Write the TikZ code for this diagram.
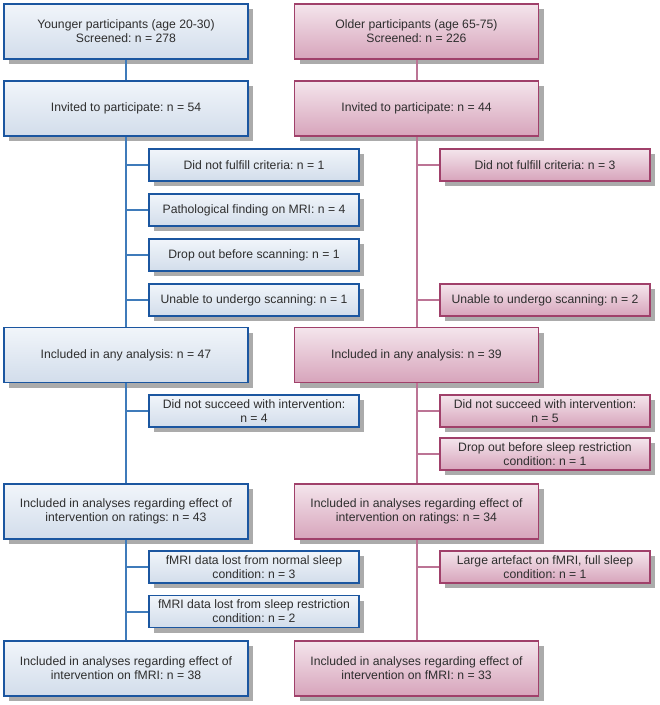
\documentclass[tikz,border=0pt]{standalone}
\usepackage{fontspec}
\setmainfont{Liberation Sans}
\usetikzlibrary{shadows}

\definecolor{ybord}{HTML}{1B56A0}
\definecolor{ytop}{HTML}{F1F5FA}
\definecolor{ybot}{HTML}{D2DDEB}
\definecolor{ylink}{HTML}{3F7BBA}
\definecolor{obord}{HTML}{A0406A}
\definecolor{otop}{HTML}{F4E5EC}
\definecolor{obot}{HTML}{D7A4BB}
\definecolor{olink}{HTML}{BC7495}
\definecolor{shgray}{HTML}{ABABAB}
\definecolor{txtgray}{HTML}{2E2E2E}

\tikzset{
  box/.style={draw, line width=1.8pt, inner sep=2pt, align=center, text=txtgray,
    font=\fontsize{12.2}{14.2}\selectfont,
    drop shadow={shadow xshift=5pt, shadow yshift=-5pt, fill=shgray, opacity=1}},
  mainbox/.style={box, minimum width=244pt, minimum height=55pt},
  sidebox/.style={box, minimum width=210pt, minimum height=32pt},
  young/.style={draw=ybord, top color=ytop, bottom color=ybot},
  old/.style={draw=obord, top color=otop, bottom color=obot},
  yline/.style={line width=2pt, draw=ylink},
  oline/.style={line width=2pt, draw=olink},
}

\begin{document}
\frenchspacing
\begin{tikzpicture}[x=1pt,y=-1pt]
\useasboundingbox (0,0) rectangle (660,705);
%%% younger participants
\node[mainbox,young] (yscr) at (126,31.5) {Younger participants (age 20-30)\\Screened: n = 278};
\node[mainbox,young] (yinv) at (126,108.5) {Invited to participate: n = 54};
\node[sidebox,young] (yex1) at (254,165) {Did not fulfill criteria: n = 1};
\node[sidebox,young] (yex2) at (254,210) {Pathological finding on MRI: n = 4};
\node[sidebox,young] (yex3) at (254,255) {Drop out before scanning: n = 1};
\node[sidebox,young] (yex4) at (254,300) {Unable to undergo scanning: n = 1};
\node[mainbox,young] (yany) at (126,355) {Included in any analysis: n = 47};
\node[sidebox,young] (yex5) at (254,411) {Did not succeed with intervention:\\n = 4};
\node[mainbox,young] (yrat) at (126,511.5) {Included in analyses regarding effect of\\intervention on ratings: n = 43};
\node[sidebox,young] (yex6) at (254,567) {fMRI data lost from normal sleep\\condition: n = 3};
\node[sidebox,young] (yex7) at (254,611.5) {fMRI data lost from sleep restriction\\condition: n = 2};
\node[mainbox,young] (yfmri) at (126,668.5) {Included in analyses regarding effect of\\intervention on fMRI: n = 38};

%%% older participants
\node[mainbox,old] (oscr) at (416.5,31.5) {Older participants (age 65-75)\\Screened: n = 226};
\node[mainbox,old] (oinv) at (416.5,108.5) {Invited to participate: n = 44};
\node[sidebox,old] (oex1) at (545,165) {Did not fulfill criteria: n = 3};
\node[sidebox,old] (oex4) at (545,300) {Unable to undergo scanning: n = 2};
\node[mainbox,old] (oany) at (416.5,355) {Included in any analysis: n = 39};
\node[sidebox,old] (oex5) at (545,411) {Did not succeed with intervention:\\n = 5};
\node[sidebox,old] (oex6) at (545,454) {Drop out before sleep restriction\\condition: n = 1};
\node[mainbox,old] (orat) at (416.5,511.5) {Included in analyses regarding effect of\\intervention on ratings: n = 34};
\node[sidebox,old] (oex7) at (545,567) {Large artefact on fMRI, full sleep\\condition: n = 1};
\node[mainbox,old] (ofmri) at (416.5,668.5) {Included in analyses regarding effect of\\intervention on fMRI: n = 33};

% trunks
\draw[yline] (yscr) -- (yinv);
\draw[yline] (yinv) -- (yany);
\draw[yline] (yany) -- (yrat);
\draw[yline] (yrat) -- (yfmri);
\draw[oline] (oscr) -- (oinv);
\draw[oline] (oinv) -- (oany);
\draw[oline] (oany) -- (orat);
\draw[oline] (orat) -- (ofmri);
% branches
\foreach \e in {yex1,yex2,yex3,yex4,yex5,yex6,yex7}
  \draw[yline] (\e.west -| yinv.south) -- (\e.west);
\foreach \e in {oex1,oex4,oex5,oex6,oex7}
  \draw[oline] (\e.west -| oinv.south) -- (\e.west);
\end{tikzpicture}
\end{document}
